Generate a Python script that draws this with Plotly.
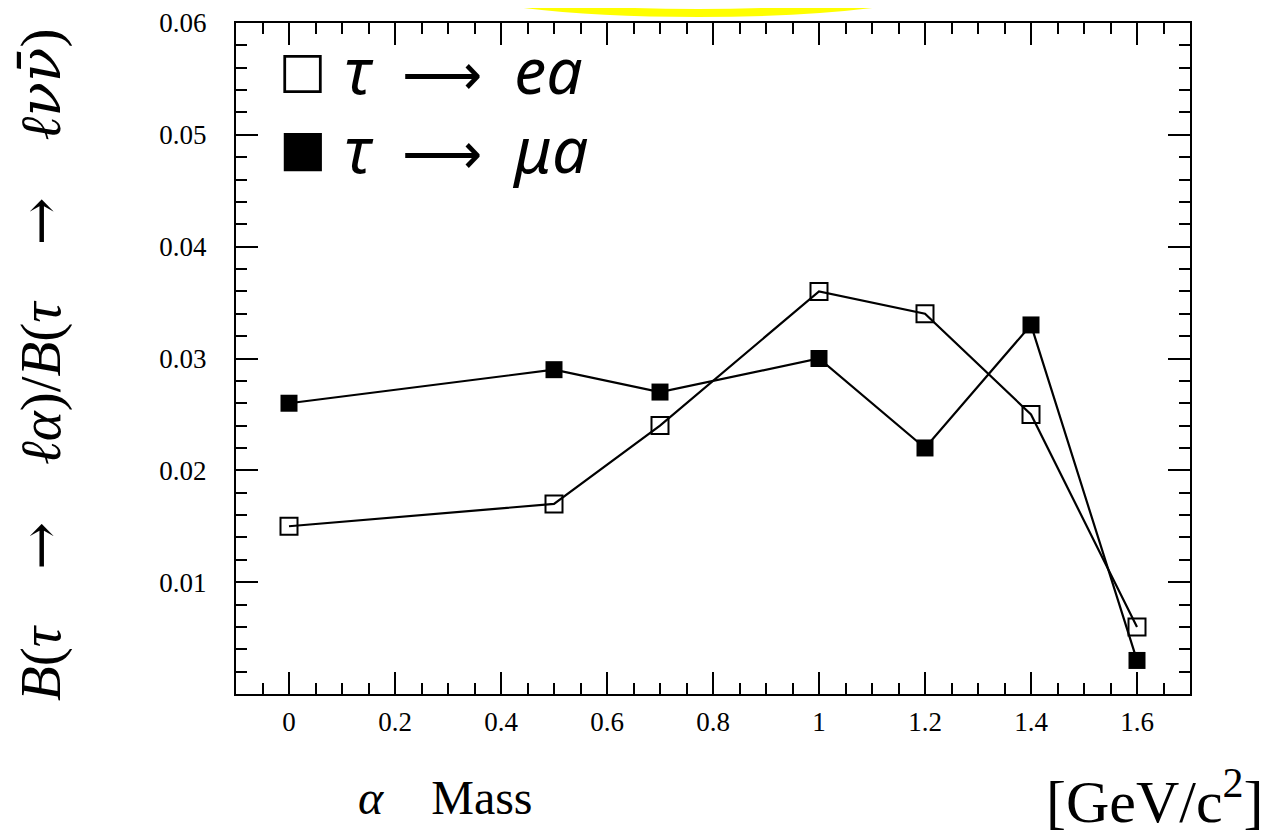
import plotly.graph_objects as go

# ---- data ----
mass = [0.0, 0.5, 0.7, 1.0, 1.2, 1.4, 1.6]
ratio_e = [0.015, 0.017, 0.024, 0.036, 0.034, 0.025, 0.006]
ratio_mu = [0.026, 0.029, 0.027, 0.030, 0.022, 0.033, 0.003]
ytick_vals = [0.01, 0.02, 0.03, 0.04, 0.05, 0.06]
ytick_text = ["0.01", "0.02", "0.03", "0.04", "0.05", "0.06"]
ARW = "<span style='font-size:56px'>⟶</span>"
legend_e = "<i>τ</i>\u2002" + ARW + "\u2002<i>ea</i>"
legend_mu = "<i>τ</i>\u2002" + ARW + "\u2002<i>μa</i>"

W, H = 1276, 836
OFF = 8  # page body margin
# plot area in screen pixels
SX0, SX1, SY0, SY1 = 236, 1190, 23, 694
L = SX0 - OFF
T = SY0 - OFF
PW = SX1 - SX0
PH = SY1 - SY0
R = W - L - PW
B = H - T - PH


def px(x):
    return (x - SX0) / PW


def py(y):
    return (SY1 - y) / PH


fig = go.Figure()
fig.add_trace(go.Scatter(
    x=mass, y=ratio_e, mode="lines+markers", showlegend=False,
    line=dict(color="black", width=2.2),
    marker=dict(symbol="square-open", size=17, color="black", line=dict(width=2, color="black")),
))
fig.add_trace(go.Scatter(
    x=mass, y=ratio_mu, mode="lines+markers", showlegend=False,
    line=dict(color="black", width=2.2),
    marker=dict(symbol="square", size=17, color="black", line=dict(width=0)),
))

tickfont = dict(family="Liberation Serif", size=27, color="black")

fig.update_xaxes(
    range=[-0.1, 1.7], tick0=0, dtick=0.2, showgrid=False, zeroline=False,
    showline=True, linecolor="black", linewidth=2, mirror="ticks", automargin=False,
    ticks="inside", ticklen=22, tickwidth=2, tickcolor="black",
    minor=dict(dtick=0.05, tick0=0, ticks="inside", ticklen=11, tickwidth=2, tickcolor="black"),
    tickfont=tickfont, ticklabelstandoff=3,
)
fig.update_yaxes(
    range=[0, 0.06], tickmode="array", tickvals=ytick_vals, ticktext=ytick_text,
    showgrid=False, zeroline=False, automargin=False,
    showline=True, linecolor="black", linewidth=2, mirror="ticks",
    ticks="inside", ticklen=22, tickwidth=2, tickcolor="black",
    minor=dict(dtick=0.002, tick0=0, ticks="inside", ticklen=11, tickwidth=2, tickcolor="black"),
    tickfont=tickfont, ticklabelstandoff=22,
)

ann = []
# legend (drawn as text)
for sym, txt, yc in [("□", legend_e, 70), ("■", legend_mu, 148)]:
    ann.append(dict(xref="paper", yref="paper", x=px(277), y=py(yc), xanchor="left", yanchor="middle",
                    text=sym, showarrow=False, font=dict(family="DejaVu Sans", size=50, color="black")))
    ann.append(dict(xref="paper", yref="paper", x=px(342), y=py(yc), xanchor="left", yanchor="middle",
                    text=txt, showarrow=False, font=dict(family="Noto Sans", size=64, color="black")))

# axis titles
YARW = "<span style='font-family:DejaVu Serif'>→</span>"
ann.append(dict(xref="paper", yref="paper", x=px(40), y=py(365), xanchor="center", yanchor="middle",
                textangle=-90, showarrow=False,
                text="<i>B</i>(<i>τ</i>\u2003" + YARW + "\u2003<i>ℓα</i>)/<i>B</i>(<i>τ</i>\u2003" + YARW +
                     "\u2003<i>ℓ<span style='font-family:DejaVu Serif'>νν\u0304</span></i>)",
                font=dict(family="Liberation Serif", size=57, color="black")))
ann.append(dict(xref="paper", yref="paper", x=px(445), y=py(797), xanchor="center", yanchor="middle",
                showarrow=False, text="<i>α</i>\u2003Mass",
                font=dict(family="Liberation Serif", size=48, color="black")))
ann.append(dict(xref="paper", yref="paper", x=px(1155), y=py(797), xanchor="center", yanchor="middle",
                showarrow=False, text="[GeV/c<sup>2</sup>]",
                font=dict(family="Liberation Serif", size=60, color="black")))

fig.update_layout(
    width=W, height=H, margin=dict(l=L, r=R, t=T, b=B, autoexpand=False),
    paper_bgcolor="white", plot_bgcolor="white",
    annotations=ann,
    shapes=[dict(type="circle", xref="paper", yref="paper",
                 x0=px(423), x1=px(973), y0=py(13), y1=py(-67),
                 line=dict(color="#ffff00", width=8))],
)

fig.write_html("out.html")
